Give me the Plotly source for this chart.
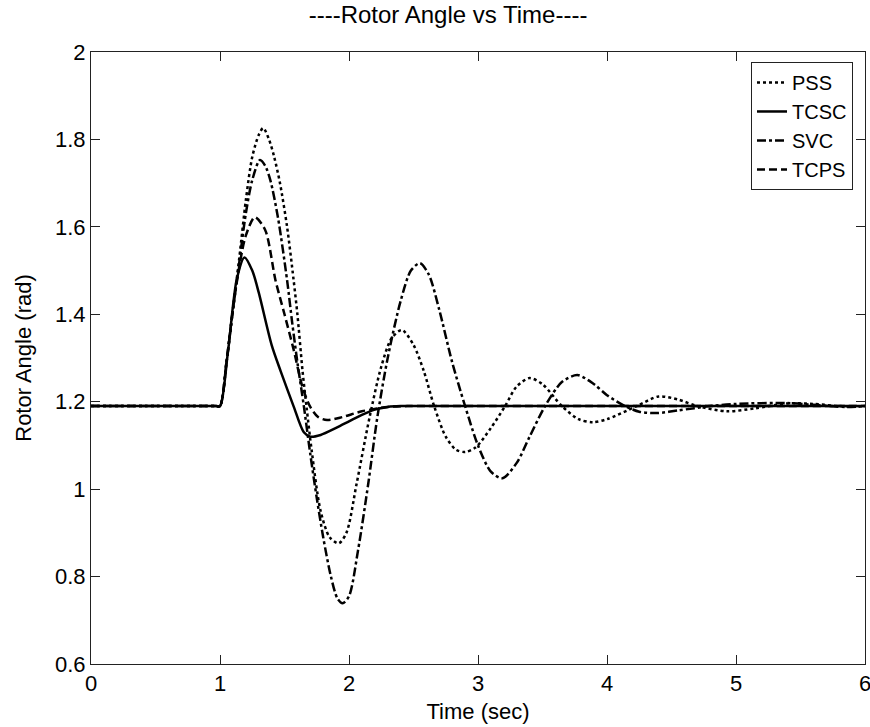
import plotly.graph_objects as go

# ---- data ----
t_pss = [0, 0.5, 0.9, 0.97, 1.0, 1.05, 1.1, 1.15, 1.2, 1.25, 1.3, 1.335, 1.38, 1.42, 1.465, 1.52, 1.57, 1.6, 1.64,
         1.67, 1.71, 1.78, 1.85, 1.92, 1.98, 2.06, 2.16, 2.25, 2.33, 2.41, 2.5, 2.58, 2.66, 2.75, 2.83,
         2.9, 2.98, 3.1, 3.21, 3.3, 3.4, 3.5, 3.65, 3.78, 3.89, 4.0, 4.23, 4.4, 4.55, 4.7, 4.93, 5.15,
         5.4, 5.6, 5.8, 6.0]
v_pss = [1.19, 1.19, 1.19, 1.19, 1.19, 1.29, 1.41, 1.53, 1.66, 1.76, 1.81, 1.826, 1.80, 1.76, 1.70, 1.60, 1.48, 1.40, 1.27,
         1.19, 1.09, 0.95, 0.89, 0.876, 0.90, 1.014, 1.165, 1.28, 1.345, 1.364, 1.33, 1.27, 1.19, 1.12, 1.09,
         1.085, 1.095, 1.14, 1.19, 1.235, 1.254, 1.24, 1.19, 1.16, 1.153, 1.16, 1.19, 1.212, 1.205, 1.19, 1.178, 1.185,
         1.196, 1.195, 1.19, 1.19]

t_tcsc = [0, 0.5, 0.9, 0.97, 1.0, 1.06, 1.13, 1.19, 1.25, 1.3, 1.4, 1.47, 1.57, 1.65, 1.7, 1.78, 1.9, 2.0, 2.1, 2.2,
          2.3, 2.4, 2.5, 3.0, 4.0, 5.0, 6.0]
v_tcsc = [1.19, 1.19, 1.19, 1.19, 1.19, 1.31, 1.48, 1.53, 1.50, 1.45, 1.33, 1.27, 1.19, 1.13, 1.12, 1.124, 1.14, 1.155, 1.17, 1.182,
          1.188, 1.19, 1.19, 1.19, 1.19, 1.19, 1.19]

t_svc = [0, 0.5, 0.9, 0.97, 1.0, 1.05, 1.1, 1.15, 1.2, 1.25, 1.31, 1.35, 1.39, 1.45, 1.52, 1.56, 1.6, 1.65, 1.7, 1.75,
         1.8, 1.86, 1.91, 1.95, 2.0, 2.07, 2.15, 2.22, 2.3, 2.4, 2.48, 2.55, 2.62, 2.7, 2.8, 2.9, 3.0, 3.1,
         3.19, 3.3, 3.4, 3.52, 3.65, 3.77, 3.9, 4.0, 4.14, 4.25, 4.39, 4.55, 4.8, 5.0, 5.4, 5.6, 5.85, 6.0]
v_svc = [1.19, 1.19, 1.19, 1.19, 1.19, 1.29, 1.41, 1.52, 1.63, 1.707, 1.753, 1.74, 1.707, 1.62, 1.478, 1.38, 1.29, 1.19, 1.08, 0.98,
         0.89, 0.80, 0.75, 0.739, 0.755, 0.86, 1.014, 1.165, 1.30, 1.43, 1.50, 1.517, 1.49, 1.41, 1.29, 1.19, 1.10, 1.04,
         1.025, 1.06, 1.12, 1.19, 1.245, 1.261, 1.24, 1.215, 1.19, 1.177, 1.174, 1.18, 1.19, 1.195, 1.197, 1.193, 1.188, 1.19]

t_tcps = [0, 0.5, 0.9, 0.97, 1.0, 1.05, 1.1, 1.15, 1.2, 1.27, 1.35, 1.43, 1.5, 1.57, 1.64, 1.70, 1.76, 1.83, 1.95, 2.1,
          2.3, 2.45, 2.6, 3.0, 4.0, 5.0, 6.0]
v_tcps = [1.19, 1.19, 1.19, 1.19, 1.19, 1.29, 1.41, 1.51, 1.58, 1.622, 1.593, 1.478, 1.40, 1.32, 1.233, 1.188, 1.165, 1.158, 1.165, 1.178,
          1.188, 1.19, 1.19, 1.19, 1.19, 1.19, 1.19]

x_ticks = [0, 1, 2, 3, 4, 5, 6]
y_ticks = [0.6, 0.8, 1.0, 1.2, 1.4, 1.6, 1.8, 2.0]
y_tick_text = ["0.6", "0.8", "1", "1.2", "1.4", "1.6", "1.8", "2"]

FONT = "Liberation Sans, Arial, sans-serif"

fig = go.Figure()
fig.add_trace(go.Scatter(x=t_pss, y=v_pss, mode="lines", name="PSS",
                         line=dict(color="black", width=2.5, dash="3px,3px", shape="spline", smoothing=0.8)))
fig.add_trace(go.Scatter(x=t_tcsc, y=v_tcsc, mode="lines", name="TCSC",
                         line=dict(color="black", width=2.5, shape="spline", smoothing=0.8)))
fig.add_trace(go.Scatter(x=t_svc, y=v_svc, mode="lines", name="SVC",
                         line=dict(color="black", width=2.5, dash="9px,3px,3px,3px", shape="spline", smoothing=0.8)))
fig.add_trace(go.Scatter(x=t_tcps, y=v_tcps, mode="lines", name="TCPS",
                         line=dict(color="black", width=2.5, dash="8px,4px", shape="spline", smoothing=0.8)))

axis_common = dict(showline=True, linecolor="#222", linewidth=1, mirror="ticks", ticks="inside",
                   ticklen=9, tickcolor="#222", showgrid=False, zeroline=False, automargin=False,
                   tickfont=dict(family=FONT, size=22, color="black"))

fig.update_layout(
    width=870, height=727,
    margin=dict(l=91, r=5, t=52, b=63),
    paper_bgcolor="white", plot_bgcolor="white",
    title=dict(text="----Rotor Angle vs Time----", x=0.515, xref="container", xanchor="center",
               y=0.992, yanchor="top",
               font=dict(family=FONT, size=24, color="black")),
    xaxis=dict(range=[0, 6], tickvals=x_ticks, ticktext=[str(v) for v in x_ticks],
               ticklabeloverflow="allow",
               title=dict(text="Time (sec)", font=dict(family=FONT, size=22, color="black"), standoff=8),
               **axis_common),
    yaxis=dict(range=[0.6, 2.0], tickvals=y_ticks, ticktext=y_tick_text,
               title=dict(text="Rotor Angle (rad)", font=dict(family=FONT, size=22, color="black"), standoff=17),
               **axis_common),
    legend=dict(x=0.9845, xanchor="right", y=0.9837, yanchor="top", bgcolor="white",
                bordercolor="#222", borderwidth=1, font=dict(family=FONT, size=20, color="black"),
                tracegroupgap=0, itemwidth=30),
    showlegend=True,
)

fig.write_html("out.html")
